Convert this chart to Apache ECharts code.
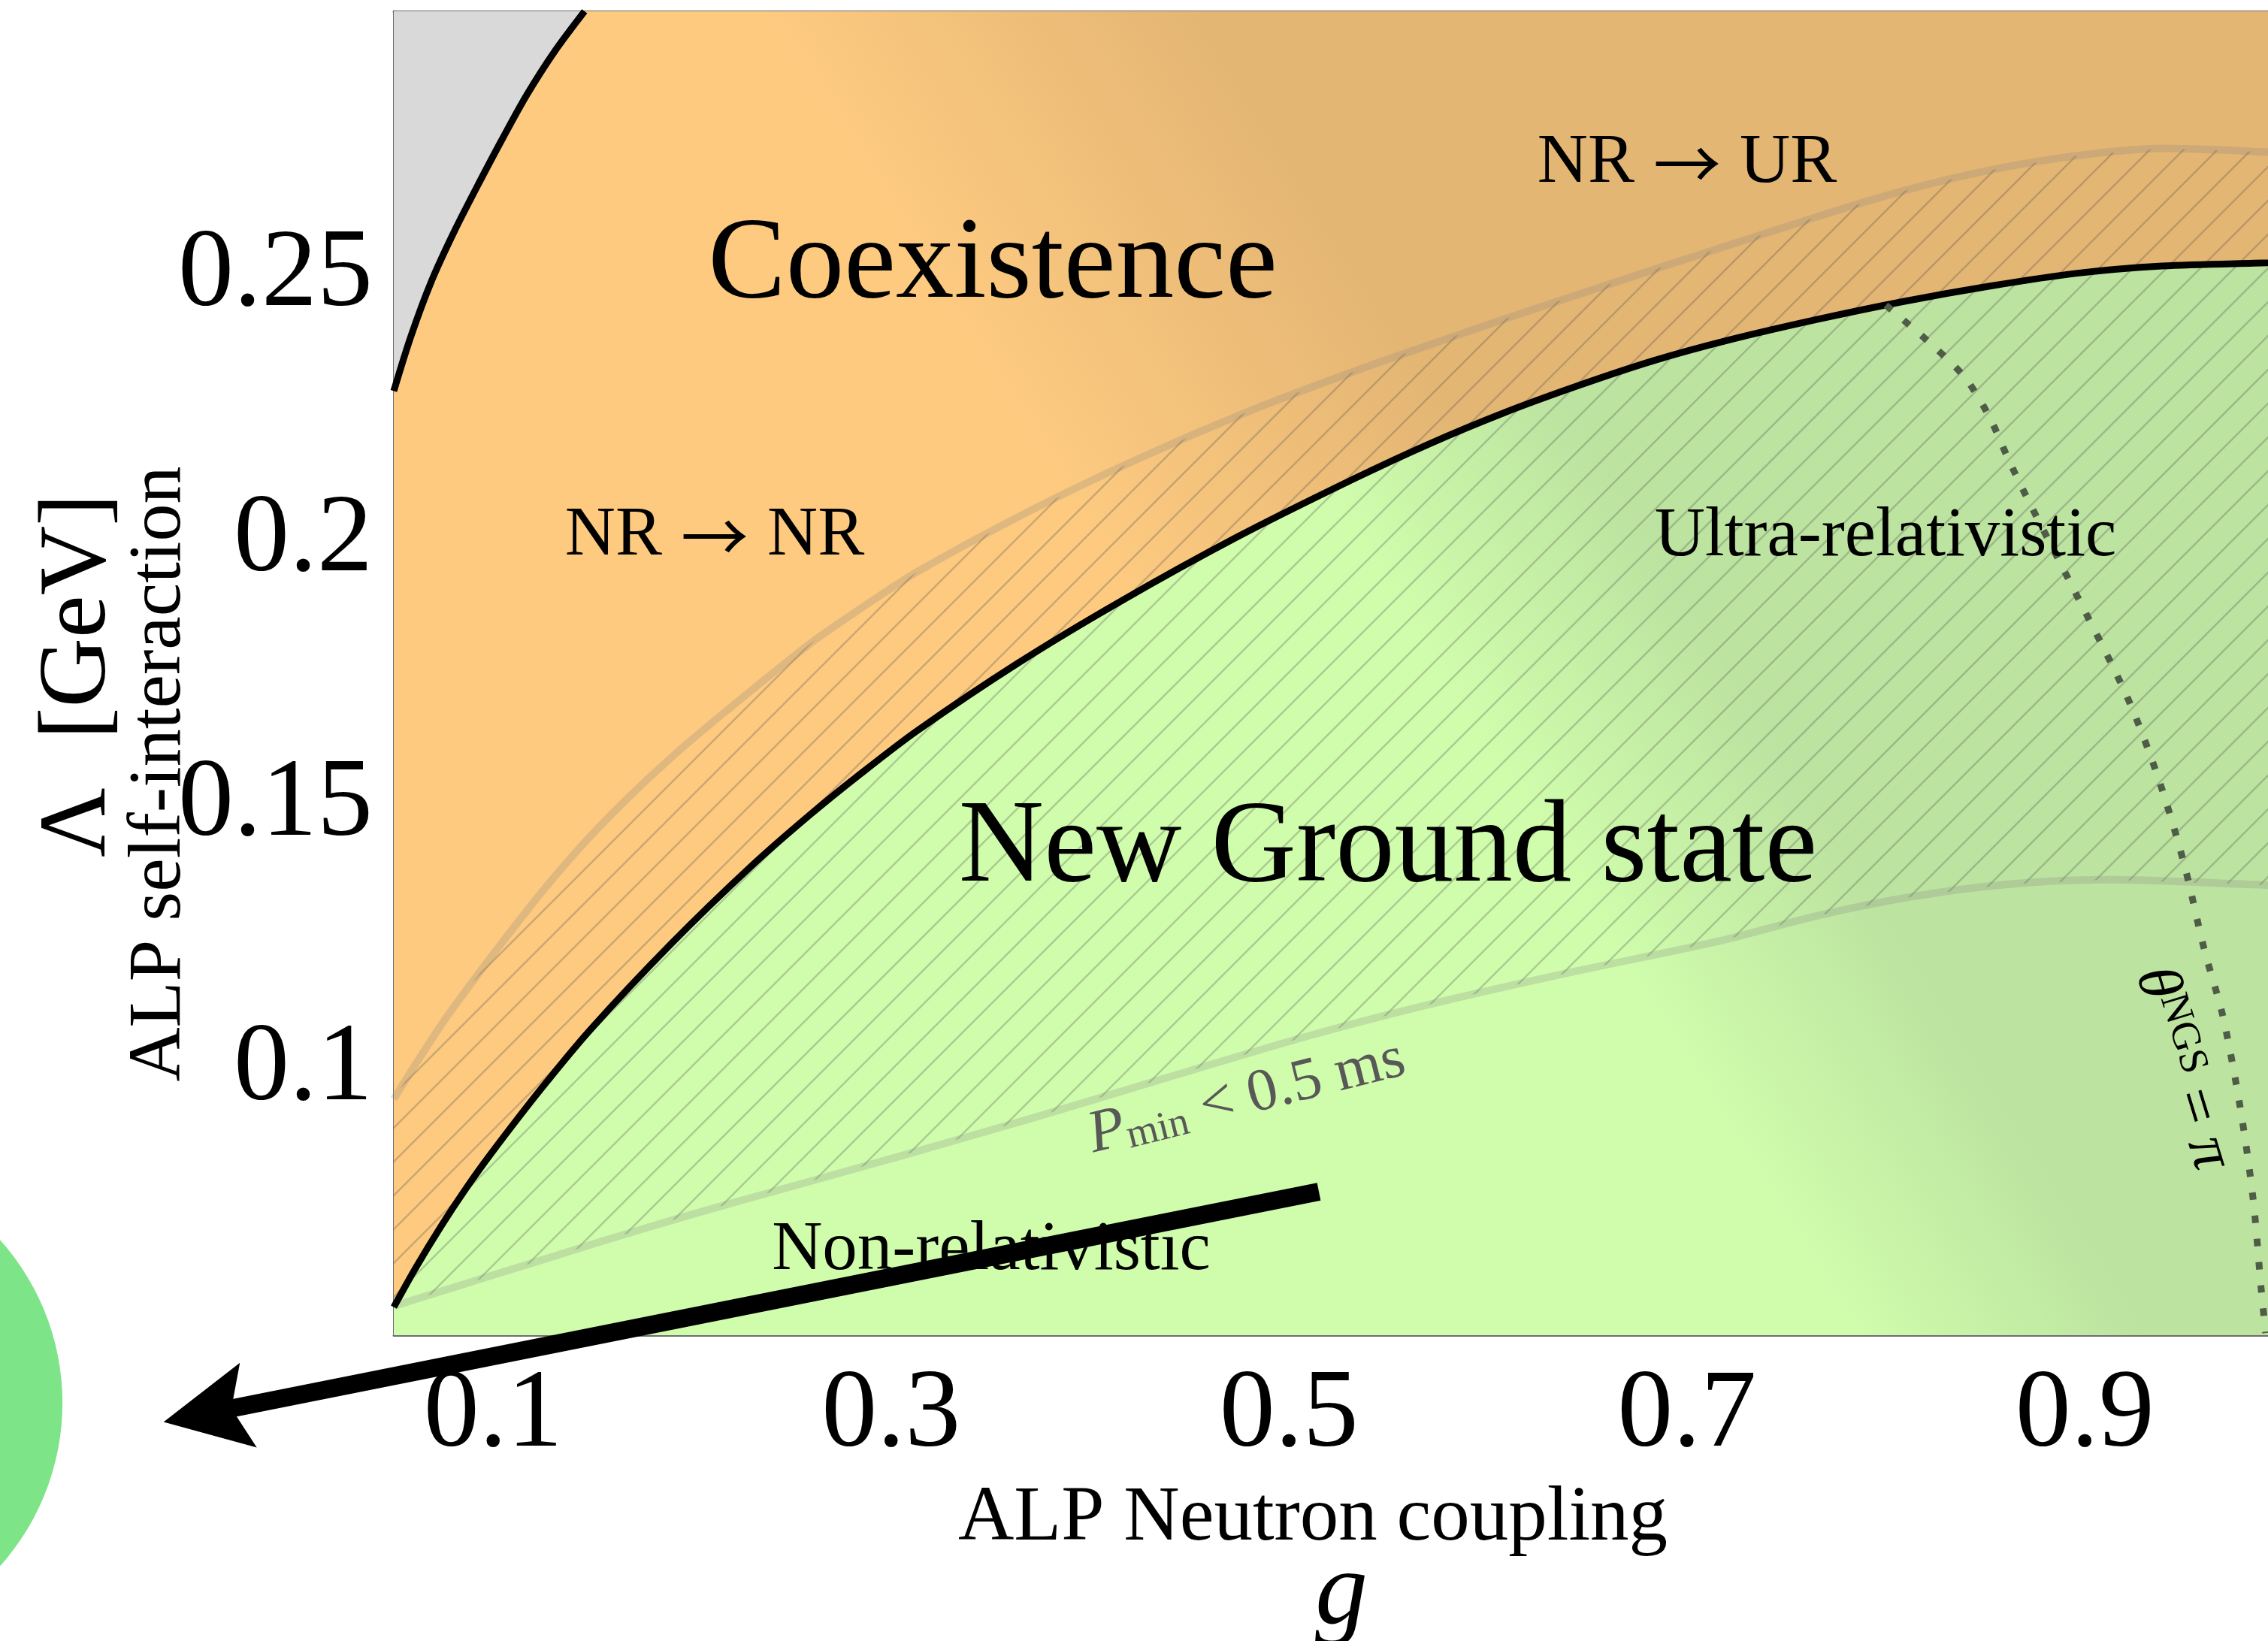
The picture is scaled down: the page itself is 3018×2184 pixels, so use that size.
<!DOCTYPE html>
<html>
<head>
<meta charset="utf-8">
<script src="https://cdn.jsdelivr.net/npm/echarts@6/dist/echarts.min.js"></script>
<style>
  html, body { margin: 0; padding: 0; background: #fff; }
  #main { width: 3018px; height: 2184px; }
</style>
</head>
<body>
<div id="main"></div>
<script>
// axes
var xRange = [0.05, 1.0];
var yRange = [0.05, 0.3];
var xTicks = [0.1, 0.2, 0.3, 0.4, 0.5, 0.6, 0.7, 0.8, 0.9, 1.0];
var xLabels = [0.1, 0.3, 0.5, 0.7, 0.9];
var yTicks = [0.075, 0.1, 0.125, 0.15, 0.175, 0.2, 0.225, 0.25, 0.275];
var yLabels = [0.1, 0.15, 0.2, 0.25];

// edge of the grey (excluded) corner
var edgeCurve = [
  [0.05, 0.2283], [0.0585, 0.2385], [0.0689, 0.249], [0.0805, 0.2585], [0.093, 0.2677],
  [0.105, 0.2762], [0.117, 0.2843], [0.131, 0.2925], [0.1459, 0.3]
];

// new ground state boundary
var ngsCurve = [
  [0.05, 0.0553], [0.061, 0.0627], [0.0738, 0.0706], [0.0863, 0.0777], [0.0987, 0.0842],
  [0.124, 0.0965], [0.1493, 0.1079], [0.1894, 0.1239], [0.2298, 0.1386], [0.2593, 0.1483],
  [0.2846, 0.156], [0.3129, 0.1641], [0.3637, 0.1769], [0.4145, 0.1884], [0.4733, 0.2006],
  [0.532, 0.2116], [0.5698, 0.2182], [0.6075, 0.2241], [0.6453, 0.2293], [0.6831, 0.234],
  [0.7209, 0.2379], [0.7654, 0.2418], [0.8089, 0.2452], [0.8523, 0.2481], [0.8954, 0.2505],
  [0.9388, 0.2519], [0.9921, 0.2525], [1.0, 0.2526]
];

// NR -> UR band, upper edge
var upperCurve = [
  [0.05, 0.0946], [0.061, 0.1012], [0.0787, 0.1112], [0.1176, 0.1305], [0.1429, 0.1418],
  [0.1665, 0.151], [0.1916, 0.1598], [0.2169, 0.1678], [0.2593, 0.1806], [0.2846, 0.1872],
  [0.3129, 0.1941], [0.37, 0.2057], [0.4243, 0.2155], [0.48, 0.2245], [0.532, 0.2319],
  [0.5698, 0.2369], [0.6075, 0.2418], [0.6453, 0.2465], [0.6831, 0.2512], [0.702, 0.2535],
  [0.7654, 0.2612], [0.8089, 0.2661], [0.8523, 0.27], [0.8954, 0.2727], [0.9388, 0.2741],
  [0.9921, 0.2734], [1.0, 0.2731]
];

// P_min < 0.5 ms, lower edge
var pminCurve = [
  [0.05, 0.0555], [0.0825, 0.0593], [0.1063, 0.0621], [0.1305, 0.0649], [0.1543, 0.0677],
  [0.1781, 0.0704], [0.2007, 0.0729], [0.2185, 0.0748], [0.3053, 0.0839], [0.3728, 0.0912],
  [0.4402, 0.0988], [0.5077, 0.1063], [0.57, 0.1124], [0.64, 0.1184], [0.7159, 0.1244],
  [0.7654, 0.1292], [0.813, 0.1328], [0.86, 0.1351], [0.9105, 0.136], [0.9921, 0.135], [1.0, 0.1349]
];

// theta_NGS = pi
var thetaCurve = [
  [0.80, 0.2445], [0.8232, 0.237], [0.8398, 0.2308], [0.8519, 0.2235], [0.8617, 0.2153],
  [0.8719, 0.2074], [0.8916, 0.1929], [0.9207, 0.171], [0.9362, 0.156], [0.9494, 0.1397],
  [0.96, 0.1229], [0.9694, 0.1102], [0.9781, 0.093], [0.9845, 0.076], [0.9887, 0.0585],
  [0.9909, 0.0504]
];

// annotation arrow + blob
var arrowPath = [[0.515, 0.0771], [-0.0444, 0.0352]];
var blobCenter = [[-0.2393, 0.0372]];

var serif = "'Liberation Serif', 'DejaVu Serif', serif";
var axisGrey = '#6e6e6e';

// hatch tile
var tileSize = 45;
var tile = document.createElement('canvas');
tile.width = tile.height = tileSize;
var tc = tile.getContext('2d');
tc.strokeStyle = 'rgba(70,70,70,0.27)';
tc.lineWidth = 2.5;
tc.beginPath();
tc.moveTo(-6, 6); tc.lineTo(6, -6);
tc.moveTo(-6, tileSize + 6); tc.lineTo(tileSize + 6, -6);
tc.moveTo(tileSize - 6, tileSize + 6); tc.lineTo(tileSize + 6, tileSize - 6);
tc.stroke();

var orangeFill = new echarts.graphic.LinearGradient(720, -450, 1145, -715, [
  { offset: 0, color: '#fdca80' }, { offset: 1, color: '#e4b674' }
], true);
var greenFill = new echarts.graphic.LinearGradient(975, -609, 1255, -784, [
  { offset: 0, color: '#d0fdac' }, { offset: 1, color: '#bce3a0' }
], true);

var myChart = echarts.init(document.getElementById('main'));

function txt(x, y, text, size, extra) {
  var o = {
    type: 'text', x: x, y: y, z: 50,
    style: {
      text: text, fill: '#000', align: 'center', verticalAlign: 'middle',
      fontSize: size, fontFamily: serif
    }
  };
  if (extra) {
    for (var k in extra) {
      if (k === 'style') { for (var s in extra.style) o.style[s] = extra.style[s]; }
      else o[k] = extra[k];
    }
  }
  return o;
}

// "NR -> XX" with a thin long arrow
function arrowTxt(x, y, a, b) {
  return txt(x, y, '{n|' + a + '}{r|\u2192}{n|' + b + '}', 93, {
    style: {
      rich: {
        n: { fontSize: 93, fontFamily: serif, fill: '#000' },
        r: { fontSize: 90, fontFamily: "'Noto Sans CJK SC'", fill: '#000', padding: [0, 25, 0, 25] }
      }
    }
  });
}

var tickStyle = { color: axisGrey, width: 3 };

var option = {
  animation: false,
  backgroundColor: '#fff',
  grid: { left: 524, top: 15, width: 2515, height: 1762, show: false, outerBoundsMode: 'none' },
  xAxis: [{
    type: 'value', min: xRange[0], max: xRange[1], position: 'bottom',
    axisLine: { show: true, onZero: false, lineStyle: tickStyle },
    axisTick: { show: true, inside: true, length: 22, customValues: xTicks, lineStyle: tickStyle },
    axisLabel: { customValues: xLabels, margin: 34, fontSize: 148, fontFamily: serif, color: '#000' },
    splitLine: { show: false }
  }, {
    type: 'value', min: xRange[0], max: xRange[1], position: 'top',
    axisLine: { show: true, onZero: false, lineStyle: tickStyle },
    axisTick: { show: true, inside: true, length: 22, customValues: xTicks, lineStyle: tickStyle },
    axisLabel: { show: false }, splitLine: { show: false }
  }],
  yAxis: [{
    type: 'value', min: yRange[0], max: yRange[1], position: 'left',
    axisLine: { show: true, onZero: false, lineStyle: tickStyle },
    axisTick: { show: true, inside: true, length: 22, customValues: yTicks, lineStyle: tickStyle },
    axisLabel: { customValues: yLabels, margin: 28, padding: [20, 0, 0, 0], fontSize: 148, fontFamily: serif, color: '#000' },
    splitLine: { show: false }
  }, {
    type: 'value', min: yRange[0], max: yRange[1], position: 'right',
    axisLine: { show: true, onZero: false, lineStyle: tickStyle },
    axisTick: { show: true, inside: true, length: 22, customValues: yTicks, lineStyle: tickStyle },
    axisLabel: { show: false }, splitLine: { show: false }
  }],
  series: [
    {
      // coexistence background
      type: 'custom', z: 1, silent: true,
      data: [[xRange[0], yRange[0]]],
      renderItem: function (params, api) {
        var a = api.coord([xRange[0], yRange[1]]);
        var b = api.coord([xRange[1], yRange[0]]);
        return { type: 'rect', shape: { x: a[0], y: a[1], width: b[0] - a[0], height: b[1] - a[1] }, style: { fill: orangeFill } };
      }
    },
    {
      type: 'line', z: 2, silent: true, data: edgeCurve, smooth: 0.3, showSymbol: false,
      lineStyle: { width: 0 }, areaStyle: { origin: 'end', color: '#d9d9d9', opacity: 1 }
    },
    {
      type: 'line', z: 2, silent: true, data: ngsCurve, smooth: 0.3, showSymbol: false,
      lineStyle: { width: 0 }, areaStyle: { origin: 'start', color: greenFill, opacity: 1 }
    },
    {
      // hatched band between the two grey curves
      type: 'custom', z: 3, silent: true, clip: true,
      data: [[xRange[0], yRange[0]]],
      renderItem: function (params, api) {
        var pts = upperCurve.map(function (p) { return api.coord(p); });
        var low = pminCurve.slice().reverse().map(function (p) { return api.coord(p); });
        return { type: 'polygon', shape: { points: pts.concat(low) }, style: { fill: { image: tile, repeat: 'repeat' } } };
      }
    },
    {
      type: 'line', z: 4, silent: true, data: upperCurve, smooth: 0.3, showSymbol: false,
      lineStyle: { width: 10, color: 'rgba(128,128,128,0.24)' }
    },
    {
      type: 'line', z: 4, silent: true, data: pminCurve, smooth: 0.3, showSymbol: false,
      lineStyle: { width: 10, color: 'rgba(128,128,128,0.24)' }
    },
    {
      type: 'line', z: 5, silent: true, data: edgeCurve, smooth: 0.3, showSymbol: false,
      lineStyle: { width: 9, color: '#000' }
    },
    {
      type: 'line', z: 5, silent: true, data: ngsCurve, smooth: 0.3, showSymbol: false,
      lineStyle: { width: 9, color: '#000' }
    },
    {
      type: 'line', z: 5, silent: true, data: thetaCurve, smooth: 0.3, showSymbol: false,
      lineStyle: { width: 9, color: '#4f5c48', type: [10, 21], cap: 'butt' }
    },
    {
      type: 'scatter', z: 20, silent: true, clip: false, data: blobCenter,
      symbol: 'circle', symbolSize: 650, itemStyle: { color: '#7de487', opacity: 1 }
    },
    {
      type: 'lines', coordinateSystem: 'cartesian2d', z: 21, silent: true, clip: false,
      symbol: ['none', 'path://M50,0 L100,100 L50,80 L0,100 Z'], symbolSize: 115,
      lineStyle: { color: '#000', width: 24, opacity: 1, curveness: 0 },
      data: [{ coords: arrowPath }]
    }
  ],
  graphic: [
    txt(1321, 354, 'Coexistence', 155),
    txt(1847, 1131, 'New Ground state', 157),
    arrowTxt(2245, 218, 'NR', 'UR'),
    arrowTxt(951, 714, 'NR', 'NR'),
    txt(2509, 715, 'Ultra-relativistic', 93),
    txt(1319, 1665, 'Non-relativistic', 93),
    txt(1659, 1461, '{i|P}{s|min}{r| < 0.5 ms}', 80, {
      rotation: 0.245,
      style: {
        fill: '#585858',
        rich: {
          i: { fontSize: 80, fontStyle: 'italic', fontFamily: serif, fill: '#585858', lineHeight: 80 },
          s: { fontSize: 54, fontFamily: serif, fill: '#585858', lineHeight: 40, verticalAlign: 'bottom' },
          r: { fontSize: 80, fontFamily: serif, fill: '#585858', lineHeight: 80 }
        }
      }
    }),
    txt(2904, 1422, '{t|\u03b8}{u|NGS}{m| = }{t|\u03c0}', 82, {
      rotation: -1.274,
      style: {
        rich: {
          t: { fontSize: 82, fontStyle: 'italic', fontFamily: serif, fill: '#000', lineHeight: 82 },
          u: { fontSize: 54, fontFamily: serif, fill: '#000', lineHeight: 22, verticalAlign: 'top' },
          m: { fontSize: 82, fontFamily: serif, fill: '#000', lineHeight: 82 }
        }
      }
    }),
    txt(105, 899, '\u039b  [GeV]', 128, { rotation: Math.PI / 2 }),
    txt(213, 1030, 'ALP self-interaction', 100, { rotation: Math.PI / 2 }),
    txt(1747, 2022, 'ALP Neutron coupling', 103),
    txt(1785, 2123, 'g', 140, { style: { fontStyle: 'italic' } })
  ]
};

myChart.setOption(option);
</script>
</body>
</html>
